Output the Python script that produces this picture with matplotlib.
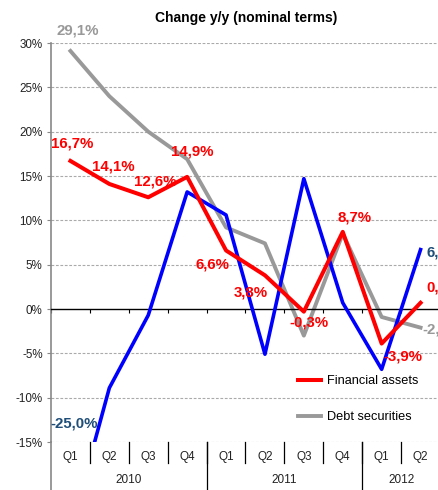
import numpy as np
import matplotlib
matplotlib.use("Agg")
import matplotlib.pyplot as plt
import matplotlib.transforms as mtransforms

plt.rcParams['font.family'] = ['Liberation Sans', 'DejaVu Sans']

# data (% change y/y)
quarters = ['Q1', 'Q2', 'Q3', 'Q4', 'Q1', 'Q2', 'Q3', 'Q4', 'Q1', 'Q2']
years = ['2010', '2011', '2012']
year_spans = [(0, 3), (4, 7), (8, 9)]
financial_assets = [16.7, 14.1, 12.6, 14.9, 6.6, 3.8, -0.3, 8.7, -3.9, 0.7]
debt_securities = [29.1, 24.0, 20.0, 16.9, 9.2, 7.4, -3.0, 8.5, -0.9, -2.1]
other_series = [-25.0, -8.9, -0.7, 13.2, 10.6, -5.1, 14.7, 0.7, -6.8, 6.7]
yticks = [-15, -10, -5, 0, 5, 10, 15, 20, 25, 30]

RED = '#ff0000'
GRAY = '#999999'
BLUE = '#0000ff'
DARKBLUE = '#1f4e79'


def fmt(v, cut=None):
    s = ('%.1f%%' % v).replace('.', ',')
    # the right-most labels run off the edge of the picture
    return s[:cut] if cut else s


fig = plt.figure(figsize=(4.39, 4.90), dpi=100)
ax = fig.add_axes([51 / 439, 1 - 442 / 490, 389 / 439, 399 / 490])

x = np.arange(len(quarters))
ax.plot(x, other_series, color=BLUE, lw=2.6, zorder=3)
ax.plot(x, debt_securities, color=GRAY, lw=2.8, zorder=2, label='Debt securities')
ax.plot(x, financial_assets, color=RED, lw=2.9, zorder=4, label='Financial assets')

ax.set_xlim(-0.5, len(quarters) - 0.5)
ax.set_ylim(-15, 30)
ax.set_yticks(yticks)
ax.set_yticklabels(['%d%%' % t for t in yticks], fontsize=8.4, color='#222222')
for t in yticks:
    if t != 0:
        ax.axhline(t, color='#aaaaaa', lw=0.8, ls=(0, (2.5, 1.5)), zorder=0)

for s in ['top', 'right']:
    ax.spines[s].set_visible(False)
ax.spines['left'].set_color('#888888')
ax.spines['left'].set_linewidth(1.2)
ax.spines['bottom'].set_position(('data', 0))
ax.spines['bottom'].set_color('black')
ax.spines['bottom'].set_linewidth(1.0)
ax.set_xticks(np.arange(len(quarters) + 1) - 0.5)
ax.set_xticklabels([])
ax.tick_params(axis='x', direction='out', length=3, width=0.8)
ax.tick_params(axis='y', direction='out', length=3, width=0.8, color='#888888', pad=3)

# two-level category axis below the plot
tr = mtransforms.blended_transform_factory(ax.transData, ax.transAxes)
for i, q in enumerate(quarters):
    ax.text(i, -0.0376, q, transform=tr, ha='center', va='center', fontsize=8.5, color='#222222')
for i in range(1, len(quarters)):
    ax.plot([i - 0.5, i - 0.5], [0, -0.053], transform=tr, color='black', lw=0.9, clip_on=False)
for (a, b), yr in zip(year_spans, years):
    ax.text((a + b) / 2, -0.095, yr, transform=tr, ha='center', va='center', fontsize=8.5, color='#222222')
    if a > 0:
        ax.plot([a - 0.5, a - 0.5], [0, -0.13], transform=tr, color='black', lw=0.9, clip_on=False)
ax.plot([-0.5, -0.5], [0, -0.13], transform=tr, color='#888888', lw=1.2, clip_on=False)

# data labels: (series, index, offset px, ha, colour, chars shown)
labels = [
    (financial_assets, 0, (2, 17), 'center', RED, None),
    (financial_assets, 1, (4, 17), 'center', RED, None),
    (financial_assets, 2, (7, 16), 'center', RED, None),
    (financial_assets, 3, (5, 25), 'center', RED, None),
    (financial_assets, 4, (-14, -14), 'center', RED, None),
    (financial_assets, 5, (-14, -17), 'center', RED, None),
    (financial_assets, 6, (5, -11), 'center', RED, None),
    (financial_assets, 7, (12, 14), 'center', RED, None),
    (financial_assets, 8, (21, -13), 'center', RED, None),
    (financial_assets, 9, (6, 15), 'left', RED, 2),
    (debt_securities, 0, (7, 20), 'center', GRAY, None),
    (debt_securities, 9, (2, -2), 'left', GRAY, 3),
    (other_series, 0, (4, 107), 'center', DARKBLUE, None),
    (other_series, 9, (6, -3), 'left', DARKBLUE, 2),
]
for series, i, off, ha, col, cut in labels:
    ax.annotate(fmt(series[i], cut), (i, series[i]), xytext=off, textcoords='offset pixels',
                ha=ha, va='center', fontsize=10.8, fontweight='bold', color=col,
                annotation_clip=False, zorder=5)

handles, names = ax.get_legend_handles_labels()
leg = ax.legend(handles[::-1], names[::-1], loc='upper left',
                bbox_to_anchor=(298 / 439, 1 - 375 / 490), bbox_transform=fig.transFigure,
                frameon=False, fontsize=9.2, handlelength=1.8, handletextpad=0.5,
                labelspacing=1.9, borderpad=0, borderaxespad=0)

fig.text(246 / 439, 1 - 18 / 490, 'Change y/y (nominal terms)', ha='center', va='center',
         fontsize=10, fontweight='bold')

fig.savefig('out.png', dpi=100)
